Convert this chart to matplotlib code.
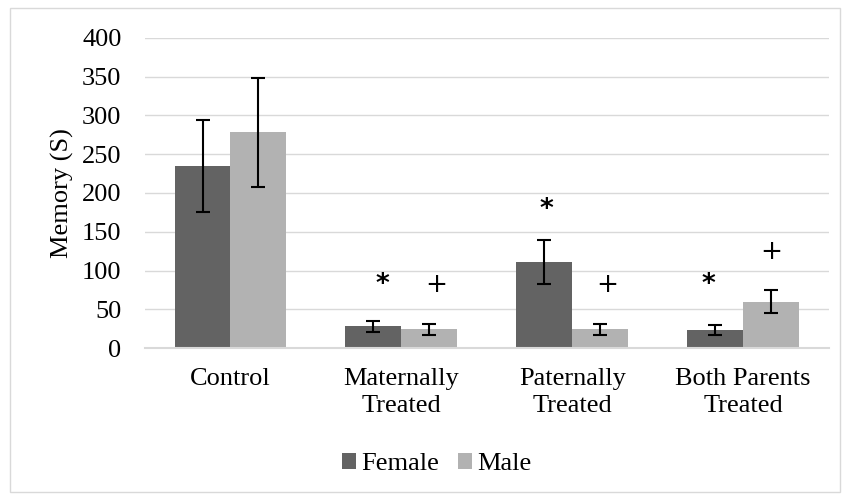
import numpy as np
import matplotlib.pyplot as plt
from matplotlib.patches import Rectangle

# data
categories = ['Control', 'Maternally\nTreated', 'Paternally\nTreated', 'Both Parents\nTreated']
female = [235, 28, 111, 23]
female_err = [59, 7, 28, 6.5]
male = [278, 24, 24, 60]
male_err = [70, 6.5, 6.5, 15]
female_marks = ['', '*', '*', '*']
male_marks = ['', '+', '+', '+']
female_mark_y = [0, 81, 178, 81]
male_mark_y = [0, 81, 81, 124]
# small horizontal nudges of the significance marks (in category units)
female_mark_dx = [0, 0.05, 0.01, -0.04]
male_mark_dx = [0, 0.04, 0.04, 0.0]

C_F = '#636363'
C_M = '#b2b2b2'

plt.rcParams['font.family'] = ['Liberation Serif', 'DejaVu Serif']

fig = plt.figure(figsize=(8.43, 4.98), dpi=100)
fig.patches.append(Rectangle((0.012, 0.012), 0.985, 0.972, transform=fig.transFigure,
                             fill=False, edgecolor='#d9d9d9', linewidth=1))
ax = fig.add_axes([0.172, 0.301, 0.811, 0.623])

x = np.arange(len(categories))
w = 0.327
ax.bar(x - w / 2, female, w, color=C_F, label='Female', zorder=2)
ax.bar(x + w / 2, male, w, color=C_M, label='Male', zorder=2)
ax.errorbar(x - w / 2, female, yerr=female_err, fmt='none', ecolor='black',
            elinewidth=1.5, capsize=5, capthick=1.5, zorder=3)
ax.errorbar(x + w / 2, male, yerr=male_err, fmt='none', ecolor='black',
            elinewidth=1.5, capsize=5, capthick=1.5, zorder=3)

for i in range(len(categories)):
    if female_marks[i]:
        ax.text(x[i] - w / 2 + female_mark_dx[i], female_mark_y[i], female_marks[i],
                ha='center', va='center', fontsize=19, fontweight='bold',
                fontfamily='DejaVu Sans')
    if male_marks[i]:
        ax.text(x[i] + w / 2 + male_mark_dx[i], male_mark_y[i], male_marks[i],
                ha='center', va='center', fontsize=19, fontfamily='DejaVu Sans')

ax.set_xlim(-0.5, len(categories) - 0.5)
ax.set_ylim(0, 400)
ax.set_yticks(range(0, 401, 50))
ax.set_xticks(x)
ax.set_xticklabels(categories, fontsize=19, linespacing=1.3)
ax.tick_params(axis='y', labelsize=19, length=0, pad=17)
ax.tick_params(axis='x', length=0, pad=14)
ax.set_ylabel('Memory (S)', fontsize=19, labelpad=6)

ax.yaxis.grid(True, color='#d9d9d9', linewidth=1, zorder=0)
for s in ['top', 'right', 'left']:
    ax.spines[s].set_visible(False)
ax.spines['bottom'].set_color('#d9d9d9')
ax.spines['bottom'].set_linewidth(1.5)

fig.legend(loc='center', bbox_to_anchor=(0.518, 0.068), ncol=2, frameon=False,
           fontsize=19, handlelength=0.55, handleheight=0.55, handletextpad=0.2,
           columnspacing=0.7)

fig.savefig('out.png', dpi=100)
